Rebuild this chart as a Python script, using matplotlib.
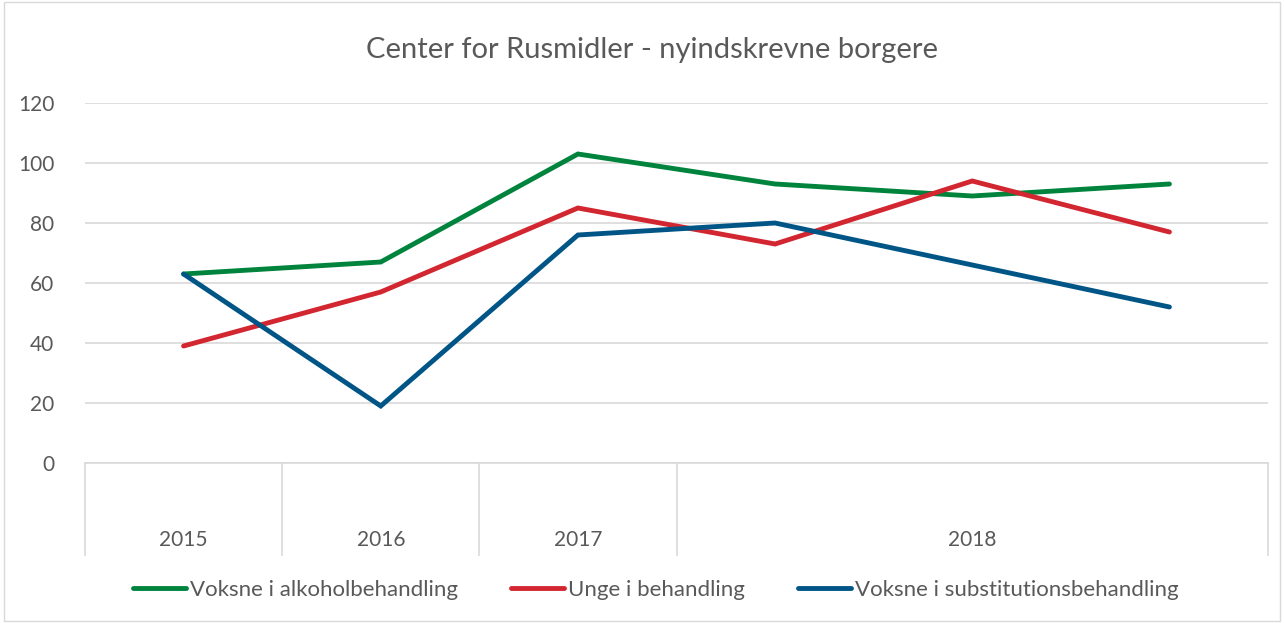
import matplotlib
matplotlib.use("Agg")
import matplotlib.pyplot as plt
from matplotlib.lines import Line2D
from matplotlib.patches import Rectangle

plt.rcParams['font.family'] = ['Lato', 'DejaVu Sans']

title = "Center for Rusmidler - nyindskrevne borgere"
points = [0, 1, 2, 3, 4, 5]
group_labels = ["2015", "2016", "2017", "2018"]
group_spans = [(0, 0), (1, 1), (2, 2), (3, 5)]
series_names = ["Voksne i alkoholbehandling", "Unge i behandling", "Voksne i substitutionsbehandling"]
voksne_alkohol = [63, 67, 103, 93, 89, 93]
unge = [39, 57, 85, 73, 94, 77]
voksne_subst = [63, 19, 76, 80, 66, 52]
colors = ["#00843D", "#D22630", "#005587"]
yticks = [0, 20, 40, 60, 80, 100, 120]

W, H = 1284, 623
fig = plt.figure(figsize=(W / 100, H / 100), dpi=100)
ax = fig.add_axes([85 / W, 1 - 463 / H, (1268 - 85) / W, 360 / H])

text_color = "#595959"
grid_color = "#D9D9D9"

for vals, c, name in zip([voksne_alkohol, unge, voksne_subst], colors, series_names):
    ax.plot(points, vals, color=c, lw=3.5, solid_capstyle='round', solid_joinstyle='miter', label=name, zorder=3)

ax.set_xlim(-0.5, 5.5)
ax.set_ylim(0, 120)
ax.set_yticks(yticks)
ax.set_yticklabels([str(v) for v in yticks], fontsize=15, color=text_color)
ax.tick_params(axis='y', length=0, pad=22)
ax.set_xticks([])
ax.grid(axis='y', color=grid_color, lw=1.2)
ax.set_axisbelow(True)
for s in ['top', 'right', 'left']:
    ax.spines[s].set_visible(False)
ax.spines['bottom'].set_color(grid_color)
ax.spines['bottom'].set_linewidth(1.2)

# category group separators and labels
trans = ax.get_xaxis_transform()
bounds = sorted(set([s - 0.5 for s, e in group_spans] + [group_spans[-1][1] + 0.5]))
for b in bounds:
    ax.add_line(Line2D([b, b], [0, -92 / 360], transform=trans, color=grid_color, lw=1.2, clip_on=False))
for lab, (s, e) in zip(group_labels, group_spans):
    ax.text((s + e) / 2, -77 / 360, lab, transform=trans, ha='center', va='center', fontsize=15, color=text_color)

fig.text(652 / W, 1 - 50 / H, title, ha='center', va='center', fontsize=21, color=text_color)

leg = fig.legend(loc='center', bbox_to_anchor=(656 / W, 1 - 590 / H), ncol=3, frameon=False,
                 fontsize=16, handlelength=2.35, handletextpad=0.2, columnspacing=2.4)
for t in leg.get_texts():
    t.set_color(text_color)

fig.add_artist(Rectangle((4 / W, 2 / H), 1 - 8 / W, 1 - 4 / H, transform=fig.transFigure,
                         fill=False, edgecolor=grid_color, lw=1))

fig.savefig("out.png", dpi=100)
